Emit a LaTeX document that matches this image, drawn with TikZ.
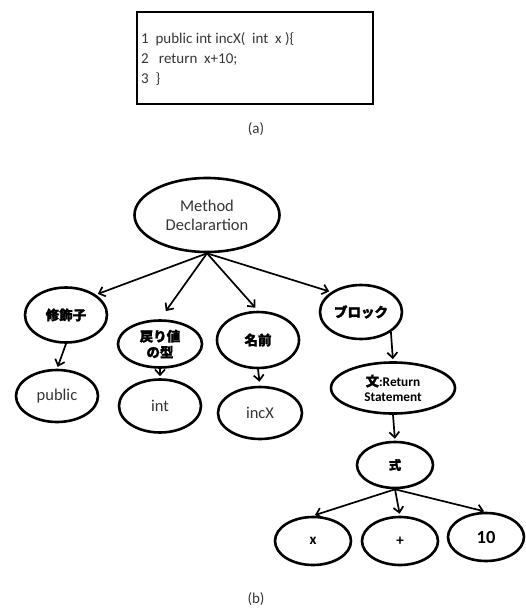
\documentclass[tikz,border=0pt]{standalone}
\usepackage{fontspec}
\setmainfont{Carlito}
\newfontfamily\jp{Noto Sans CJK JP}[BoldFeatures={FakeBold=1.5}]
\usetikzlibrary{shapes.geometric,arrows.meta}
\definecolor{txtgray}{HTML}{353535}
\begin{document}
\begin{tikzpicture}[x=1pt,y=-1pt,
  ell/.style={ellipse,draw=black,line width=2.6pt,inner sep=0pt,align=center},
  plain/.style={ell,font=\fontsize{16.5}{19}\selectfont,text=txtgray},
  jpn/.style={ell,font=\jp\bfseries\fontsize{13.5}{17}\selectfont},
  bold/.style={ell,font=\bfseries\fontsize{15}{17}\selectfont},
  arr/.style={-{Straight Barb[length=5.5pt,width=10pt]},line width=1.7pt,shorten >=2pt},
  codeline/.style={anchor=base west,inner sep=0pt,font=\fontsize{15}{20}\selectfont,text=txtgray},
  captxt/.style={font=\fontsize{15}{18}\selectfont,text=txtgray,inner sep=0pt}]
\useasboundingbox (0,0) rectangle (525,608);
% (a) code box
\node[draw=black,line width=2.8pt,minimum width=236pt,minimum height=92pt,inner sep=0pt] (box) at (255,58) {};
\node[codeline] (c1) at (141,43) {1\ \ public int incX(\ \ int\ \ x )\{};
\node[codeline] (c2) at (141,63) {2\ \ \ return\ \ x+10;};
\node[codeline] (c3) at (141,83) {3\ \ \}};
\node[captxt] (la) at (256,129) {(a)};
% (b) tree
\node[plain,minimum width=145pt,minimum height=74pt] (root) at (207,215) {Method\\Declarartion};
\node[jpn,minimum width=82pt,minimum height=55pt] (shu) at (66,315) {修飾子};
\node[jpn,minimum width=84pt,minimum height=47pt,font=\jp\bfseries\fontsize{13.5}{16}\selectfont] (mod) at (160,344) {戻り値\\の型};
\node[jpn,minimum width=82pt,minimum height=56pt] (nam) at (258,340) {名前};
\node[jpn,minimum width=82pt,minimum height=54pt] (blk) at (361,312) {ブロック};
\node[plain,minimum width=82pt,minimum height=52pt] (pub) at (57,396) {public};
\node[plain,minimum width=82pt,minimum height=53pt] (int) at (160,406) {int};
\node[plain,minimum width=84pt,minimum height=52pt] (inc) at (260,413) {incX};
\node[ell,minimum width=124pt,minimum height=51pt,font=\bfseries\fontsize{13.3}{15}\selectfont] (ret) at (393,388) {{\jp 文}:Return\\Statement};
\node[jpn,minimum width=76pt,minimum height=46pt,font=\jp\bfseries\fontsize{12.5}{15}\selectfont] (shiki) at (395,465) {式};
\node[bold,minimum width=76pt,minimum height=48pt] (x) at (313,541) {x};
\node[bold,minimum width=76pt,minimum height=48pt] (plus) at (400,541) {+};
\node[bold,minimum width=76pt,minimum height=48pt,font=\bfseries\fontsize{18.5}{20}\selectfont] (ten) at (486,537) {10};
\node[captxt] (lb) at (256,599) {(b)};
% connectors
\draw[arr] (root.south) -- (shu.north east);
\draw[arr,shorten >=10pt] (root.south) -- (mod.north);
\draw[arr,shorten >=4pt] (root.south) -- (nam.north);
\draw[arr] (root.south) -- (blk.north west);
\draw[arr] (shu.south) -- (pub.north);
\draw[arr] (mod.south) -- (int.north);
\draw[arr,shorten >=4pt] (nam.south) -- (inc.north);
\draw[arr] (blk.south east) -- (ret.north);
\draw[arr] (ret.south) -- (shiki.north);
\draw[arr] (shiki.south) -- (x.north);
\draw[arr] (shiki.south) -- (plus.north);
\draw[arr] (shiki.south) -- (ten.north);
\end{tikzpicture}
\end{document}
